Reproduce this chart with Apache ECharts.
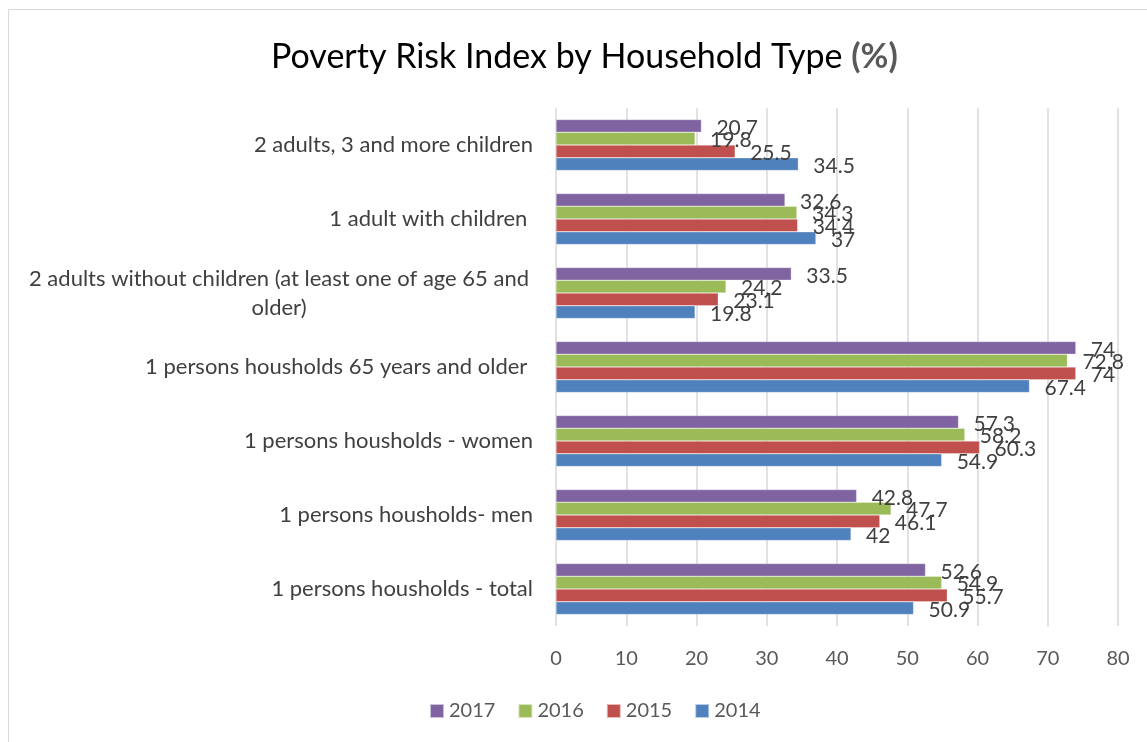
<!DOCTYPE html>
<html><head><meta charset="utf-8">
<script src="https://cdn.jsdelivr.net/npm/echarts@6/dist/echarts.min.js"></script>
<style>html,body{margin:0;padding:0;background:#fff}#c{width:1147px;height:742px}</style>
</head><body><div id="c"></div>
<script>
const categories = [
  "2 adults, 3 and more children",
  "1 adult with children ",
  "2 adults without children (at least one of age 65 and older)",
  "1 persons housholds 65 years and older ",
  "1 persons housholds - women",
  "1 persons housholds- men",
  "1 persons housholds - total"
];
const years = ["2017", "2016", "2015", "2014"];
const v2017 = [20.7, 32.6, 33.5, 74, 57.3, 42.8, 52.6];
const v2016 = [19.8, 34.3, 24.2, 72.8, 58.2, 47.7, 54.9];
const v2015 = [25.5, 34.4, 23.1, 74, 60.3, 46.1, 55.7];
const v2014 = [34.5, 37, 19.8, 67.4, 54.9, 42, 50.9];
const xTicks = [0, 10, 20, 30, 40, 50, 60, 70, 80];

const colors = ["#8064A2", "#9BBB59", "#C0504D", "#4F81BD"];
const FONT = "Lato";
const chart = echarts.init(document.getElementById('c'));
const seriesData = [v2017, v2016, v2015, v2014];
chart.setOption({
  animation: false,
  textStyle: { fontFamily: FONT },
  graphic: [{ type: 'rect', shape: { x: 8.5, y: 9.5, width: 1200, height: 800 }, style: { fill: 'none', stroke: '#d9d9d9', lineWidth: 1 } }],
  title: {
    text: '{a|Poverty Risk Index by Household Type }{b|(%)}',
    left: 266, top: 35,
    textStyle: {
      rich: {
        a: { fontFamily: FONT, fontSize: 34, color: '#000000', fontWeight: 'normal' },
        b: { fontFamily: FONT, fontSize: 34, color: '#595959', fontWeight: 'bold' }
      }
    }
  },
  legend: {
    data: years, bottom: 16, left: 424,
    itemWidth: 14, itemHeight: 14, itemGap: 22,
    icon: 'rect',
    textStyle: { fontFamily: FONT, fontSize: 20, color: '#595959' }
  },
  grid: { left: 556, right: 29, top: 108, bottom: 116, containLabel: false },
  xAxis: {
    type: 'value', min: xTicks[0], max: xTicks[xTicks.length - 1], interval: 10,
    axisLine: { show: false }, axisTick: { show: false },
    splitLine: { lineStyle: { color: '#d9d9d9', width: 1.5 } },
    axisLabel: { fontFamily: FONT, fontSize: 20, color: '#595959', margin: 23 }
  },
  yAxis: {
    type: 'category', data: categories, inverse: true,
    axisLine: { show: false }, axisTick: { show: false },
    axisLabel: {
      fontFamily: FONT, fontSize: 22, color: '#404040', margin: 23,
      formatter: function (v) {
        if (v.length > 45) {
          const i = v.lastIndexOf(' and') + 4;
          return '{c|' + v.slice(0, i) + '}\n{c|' + v.slice(i + 1) + '}';
        }
        return v;
      },
      rich: { c: { fontFamily: FONT, fontSize: 22, color: '#404040', width: 508, align: 'center', lineHeight: 29 } }
    }
  },
  series: years.map((y, k) => ({
    name: y, type: 'bar', data: seriesData[k],
    itemStyle: { color: colors[k], borderColor: 'rgba(255,255,255,0.6)', borderWidth: 0.5 },
    barGap: '0%', barCategoryGap: '31%',
    label: { show: true, position: 'right', distance: 15, fontFamily: FONT, fontSize: 21, color: '#404040', offset: [0, 2] }
  }))
});
</script></body></html>
